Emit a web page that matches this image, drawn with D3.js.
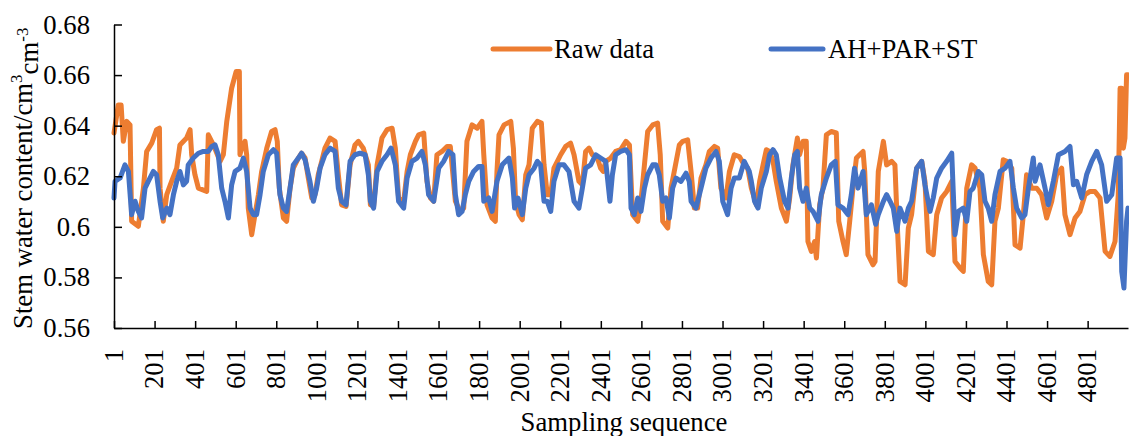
<!DOCTYPE html>
<html>
<head>
<meta charset="utf-8">
<script src="https://cdn.jsdelivr.net/npm/d3@7"></script>
<style>
  body { margin: 0; background: #fff; }
  svg { display: block; font-family: "Liberation Serif", "Times New Roman", serif; }
  .axis path, .axis line { stroke: #000; stroke-width: 1.5; }
  .axis text { fill: #000; font-size: 26.7px; font-family: "Liberation Serif", serif; }
</style>
</head>
<body>
<div id="chart"></div>
<script>
// sample index / value pairs (Raw data, orange)
var rawIdx = [1,22,36,47,64,80,88,121,146,162,187,211,225,228,244,261,285,310,326,359,376,384,400,417,458,466,491,524,540,557,581,603,619,622,
  630,647,655,663,680,696,713,729,754,778,795,806,816,836,852,869,885,910,926,943,959,976,992,1008,1025,1041,1066,1091,1107,1123,1145,1165,1189,1206,1230,1255,
  1265,1281,1298,1322,1347,1372,1388,1404,1429,1446,1462,1487,1503,1528,1544,1561,1577,1593,1618,1643,1659,1684,1708,1725,1741,1766,1791,1815,1824,1840,1865,1881,1889,
  1899,1924,1957,1970,1981,1998,2014,2031,2047,2063,2088,2108,2121,2137,2154,2170,2203,2228,2252,2269,2293,2310,2326,2343,2359,2384,2400,2413,2425,2450,2474,2499,
  2525,2542,2558,2583,2599,2616,2632,2657,2681,2694,2706,2731,2747,2763,2788,2805,2829,2846,2862,2878,2895,2919,2936,2961,2977,2993,3018,3035,3059,3084,3108,3125,
  3143,3168,3184,3201,3217,3233,3250,3266,3291,3316,3332,3348,3370,3381,3398,3414,3422,3439,3455,3464,3480,3496,3513,3537,3562,3574,3595,3611,3628,3644,3661,3677,3694,3702,3718,3743,
  3753,3769,3794,3810,3835,3851,3864,3876,3901,3917,3933,3958,3983,3999,4016,4040,4057,4081,4106,4131,4147,4172,4188,4205,4229,4246,4270,4287,4311,4328,4344,4361,
  4385,4402,4427,4443,4468,4484,4500,4525,4550,4574,4599,4624,4648,4673,4689,4714,4739,4763,4788,4813,4837,4862,4887,4911,4936,4952,4961,4969,4977,4985,4993,5000];
var rawVal = [0.6371,0.6482,0.6482,0.6338,0.6417,0.6403,0.6022,0.6002,0.6153,0.6298,0.6331,0.6384,0.6390,0.6153,0.6022,0.6127,0.6180,0.6232,0.6324,0.6351,0.6384,0.6285,0.6206,0.6153,0.6140,0.6364,0.6324,0.6259,0.6285,0.6417,0.6548,0.6614,0.6614,0.6285,
  0.6311,0.6338,0.6285,0.6074,0.5969,0.6048,0.6127,0.6219,0.6311,0.6377,0.6384,0.6338,0.6153,0.6035,0.6022,0.6153,0.6232,0.6272,0.6291,0.6272,0.6193,0.6114,0.6127,0.6206,0.6259,0.6311,0.6351,0.6338,0.6206,0.6087,0.6081,0.6245,0.6324,0.6338,0.6311,0.6245,
  0.6087,0.6081,0.6245,0.6351,0.6384,0.6390,0.6311,0.6114,0.6101,0.6219,0.6285,0.6338,0.6364,0.6371,0.6180,0.6114,0.6101,0.6285,0.6298,0.6318,0.6318,0.6101,0.6061,0.6074,0.6338,0.6403,0.6390,0.6417,0.6285,0.6087,0.6035,0.6022,0.6219,
  0.6364,0.6403,0.6417,0.6311,0.6101,0.6048,0.6028,0.6206,0.6245,0.6390,0.6417,0.6410,0.6245,0.6127,0.6127,0.6232,0.6285,0.6318,0.6331,0.6285,0.6180,0.6166,0.6298,0.6311,0.6285,0.6272,0.6232,0.6219,0.6259,0.6272,0.6298,0.6305,
  0.6338,0.6324,0.6048,0.6022,0.6101,0.6245,0.6377,0.6403,0.6410,0.6285,0.6022,0.5995,0.6153,0.6219,0.6324,0.6338,0.6344,0.6219,0.6074,0.6074,0.6193,0.6245,0.6298,0.6318,0.6311,0.6153,0.6114,0.6219,0.6285,0.6278,0.6245,0.6232,
  0.6153,0.6087,0.6180,0.6245,0.6305,0.6298,0.6259,0.6180,0.6074,0.6022,0.6114,0.6245,0.6351,0.6285,0.6338,0.6338,0.5942,0.5903,0.5942,0.5877,0.6087,0.6153,0.6364,0.6377,0.6371,0.6022,0.5942,0.5890,0.6022,0.6153,0.6272,0.6285,0.6298,0.6219,0.5890,0.5850,
  0.5863,0.6219,0.6338,0.6245,0.6259,0.6245,0.5982,0.5784,0.5771,0.5995,0.6048,0.6232,0.6259,0.6180,0.5903,0.5890,0.6048,0.6114,0.6140,0.6180,0.5863,0.5837,0.5824,0.6153,0.6245,0.6232,0.6153,0.5890,0.5784,0.5771,0.6022,0.6074,
  0.6265,0.6259,0.6232,0.5929,0.5916,0.6048,0.6206,0.6153,0.6153,0.6127,0.6035,0.6101,0.6206,0.6232,0.6048,0.5969,0.6035,0.6061,0.6127,0.6140,0.6140,0.6114,0.5903,0.5883,0.5942,0.6127,0.6548,0.6548,0.6311,0.6351,0.6601,0.6601];

// AH+PAR+ST model (blue)
var fitIdx = [1,6,31,55,72,88,105,121,137,154,170,195,211,228,241,261,277,294,310,326,343,359,367,392,417,441,466,483,499,515,532,548,565,581,598,622,
  639,655,672,688,704,721,737,762,787,803,819,836,852,869,885,910,926,943,967,984,1000,1017,1041,1066,1091,1107,1123,1145,1165,1189,1214,1239,1255,
  1265,1281,1298,1322,1347,1367,1388,1404,1429,1446,1470,1495,1519,1536,1552,1577,1602,1626,1651,1672,1684,1700,1717,1733,1750,1774,1799,1815,1824,1848,1865,1889,
  1915,1948,1965,1976,1993,2014,2031,2047,2072,2088,2104,2121,2137,2154,2170,2195,2219,2244,2269,2293,2310,2326,2351,2376,2400,2425,2446,2458,2474,2499,
  2525,2542,2550,2566,2583,2599,2616,2632,2657,2673,2689,2706,2722,2739,2755,2772,2796,2821,2837,2846,2870,2895,2919,2944,2969,2985,3002,3026,3043,3059,3084,3108,3133,
  3143,3159,3176,3192,3217,3233,3250,3266,3283,3307,3324,3340,3357,3370,3381,3398,3414,3431,3447,3472,3488,3513,3537,3557,3570,3595,3620,3636,3652,3669,3694,3710,3735,
  3756,3769,3794,3810,3827,3843,3860,3876,3901,3917,3933,3958,3983,3999,4024,4040,4057,4081,4106,4131,4147,4164,4188,4205,4221,4237,4262,4279,4295,4311,4328,4344,4369,4394,
  4418,4435,4451,4476,4492,4509,4533,4542,4566,4591,4607,4632,4657,4689,4714,4731,4747,4772,4796,4821,4846,4870,4895,4920,4944,4961,4969,4980,4993,5000];
var fitVal = [0.6114,0.6180,0.6193,0.6245,0.6219,0.6048,0.6101,0.6061,0.6035,0.6153,0.6180,0.6219,0.6206,0.6101,0.6035,0.6074,0.6048,0.6127,0.6180,0.6219,0.6166,0.6180,0.6245,0.6272,0.6291,0.6298,0.6298,0.6318,0.6324,0.6285,0.6153,0.6101,0.6035,0.6166,0.6219,0.6232,
  0.6272,0.6219,0.6074,0.6048,0.6048,0.6127,0.6219,0.6285,0.6305,0.6291,0.6127,0.6074,0.6061,0.6153,0.6245,0.6272,0.6291,0.6265,0.6180,0.6101,0.6153,0.6232,0.6285,0.6311,0.6298,0.6153,0.6101,0.6087,0.6259,0.6285,0.6291,0.6285,0.6206,
  0.6101,0.6074,0.6219,0.6259,0.6285,0.6311,0.6245,0.6101,0.6074,0.6193,0.6259,0.6272,0.6298,0.6245,0.6127,0.6101,0.6232,0.6259,0.6298,0.6285,0.6127,0.6048,0.6061,0.6127,0.6180,0.6219,0.6239,0.6239,0.6101,0.6114,0.6061,0.6180,
  0.6245,0.6272,0.6193,0.6074,0.6114,0.6048,0.6153,0.6206,0.6232,0.6259,0.6245,0.6101,0.6101,0.6061,0.6180,0.6245,0.6245,0.6219,0.6101,0.6074,0.6153,0.6232,0.6245,0.6285,0.6272,0.6259,0.6101,0.6206,0.6285,0.6298,
  0.6305,0.6285,0.6074,0.6048,0.6114,0.6061,0.6153,0.6206,0.6245,0.6245,0.6206,0.6101,0.6114,0.6035,0.6153,0.6193,0.6180,0.6212,0.6180,0.6101,0.6074,0.6153,0.6232,0.6272,0.6298,0.6259,0.6101,0.6048,0.6153,0.6193,0.6193,0.6259,0.6219,
  0.6180,0.6101,0.6074,0.6153,0.6219,0.6285,0.6305,0.6285,0.6193,0.6101,0.6074,0.6193,0.6285,0.6298,0.6153,0.6101,0.6153,0.6074,0.6061,0.6022,0.6127,0.6193,0.6245,0.6259,0.6087,0.6074,0.6048,0.6127,0.6232,0.6153,0.6219,0.6048,0.6087,
  0.6010,0.6048,0.6101,0.6127,0.6101,0.6074,0.5982,0.6074,0.6022,0.6074,0.6101,0.6232,0.6259,0.6166,0.6061,0.6114,0.6193,0.6232,0.6259,0.6291,0.5969,0.6061,0.6074,0.6022,0.6140,0.6153,0.6219,0.6206,0.6101,0.6074,0.6022,0.6127,0.6219,0.6232,
  0.6259,0.6153,0.6074,0.6035,0.6048,0.6153,0.6272,0.6180,0.6245,0.6153,0.6087,0.6180,0.6285,0.6298,0.6318,0.6166,0.6180,0.6114,0.6206,0.6259,0.6298,0.6245,0.6101,0.6127,0.6272,0.6272,0.5824,0.5758,0.6022,0.6074];

var xTicks = [1,201,401,601,801,1001,1201,1401,1601,1801,2001,2201,2401,2601,2801,3001,3201,3401,3601,3801,4001,4201,4401,4601,4801];
var yTicks = [0.56,0.58,0.6,0.62,0.64,0.66,0.68];
var seriesNames = ["Raw data", "AH+PAR+ST"];
var seriesColors = ["#ED7D31", "#4472C4"];

var width = 1129, height = 436;
var margin = {top: 24.5, right: 1, bottom: 108, left: 114};

var svg = d3.select("#chart").append("svg")
    .attr("width", width).attr("height", height);

var x = d3.scaleLinear().domain([1, 5000]).range([margin.left, width - margin.right]);
var y = d3.scaleLinear().domain([0.56, 0.68]).range([height - margin.bottom, margin.top]);

function pairs(idx, val) {
  var n = Math.min(idx.length, val.length);
  return d3.range(n).map(function(i) { return {s: idx[i], v: val[i]}; });
}

var line = d3.line()
    .x(function(d) { return x(d.s); })
    .y(function(d) { return y(d.v); });

var series = [pairs(rawIdx, rawVal), pairs(fitIdx, fitVal)];

svg.selectAll(".series")
  .data(series)
  .enter().append("path")
    .attr("class", "series")
    .attr("d", line)
    .attr("fill", "none")
    .attr("stroke", function(d, i) { return seriesColors[i]; })
    .attr("stroke-width", 5)
    .attr("stroke-linejoin", "round")
    .attr("stroke-linecap", "round");

// axes, ticks pointing inward like the excel original
svg.append("g")
    .attr("class", "axis")
    .attr("transform", "translate(" + margin.left + ",0)")
    .call(d3.axisLeft(y).tickValues(yTicks).tickSizeInner(-8).tickSizeOuter(0).tickPadding(24)
      .tickFormat(function(d) { return String(+d.toFixed(2)); }));

var xAxis = svg.append("g")
    .attr("class", "axis")
    .attr("transform", "translate(0," + (height - margin.bottom) + ")")
    .call(d3.axisBottom(x).tickValues(xTicks).tickSizeInner(-7).tickSizeOuter(0).tickFormat(d3.format("d")));

xAxis.selectAll(".tick text")
    .attr("transform", "rotate(-90)")
    .attr("text-anchor", "end")
    .attr("x", -21)
    .attr("y", -1)
    .attr("dy", "0.35em");

// axis titles
svg.append("text")
    .attr("x", (margin.left + width - margin.right) / 2 + 3)
    .attr("y", 431)
    .attr("text-anchor", "middle")
    .attr("font-size", "26.7px")
    .text("Sampling sequence");

var yTitle = svg.append("text")
    .attr("transform", "translate(32," + ((height - margin.bottom + margin.top) / 2 + 2) + ") rotate(-90)")
    .attr("text-anchor", "middle")
    .attr("font-size", "26.7px");
yTitle.append("tspan").text("Stem water content/cm");
yTitle.append("tspan").attr("font-size", "17px").attr("dy", "-0.6em").text("3");
yTitle.append("tspan").attr("dy", "0.6em").text("cm");
yTitle.append("tspan").attr("font-size", "17px").attr("dy", "-0.6em").text("-3");

// legend
var legendX = [493, 771];
var legend = svg.selectAll(".legend")
  .data(seriesNames)
  .enter().append("g")
    .attr("class", "legend")
    .attr("transform", function(d, i) { return "translate(" + legendX[i] + ",49)"; });

legend.append("line")
    .attr("x1", 0).attr("x2", function(d, i) { return i ? 52 : 57; })
    .attr("stroke", function(d, i) { return seriesColors[i]; })
    .attr("stroke-width", 5)
    .attr("stroke-linecap", "round");

legend.append("text")
    .attr("x", function(d, i) { return i ? 57 : 61; })
    .attr("y", 9)
    .attr("font-size", "26.7px")
    .text(function(d) { return d; });
</script>
</body>
</html>
